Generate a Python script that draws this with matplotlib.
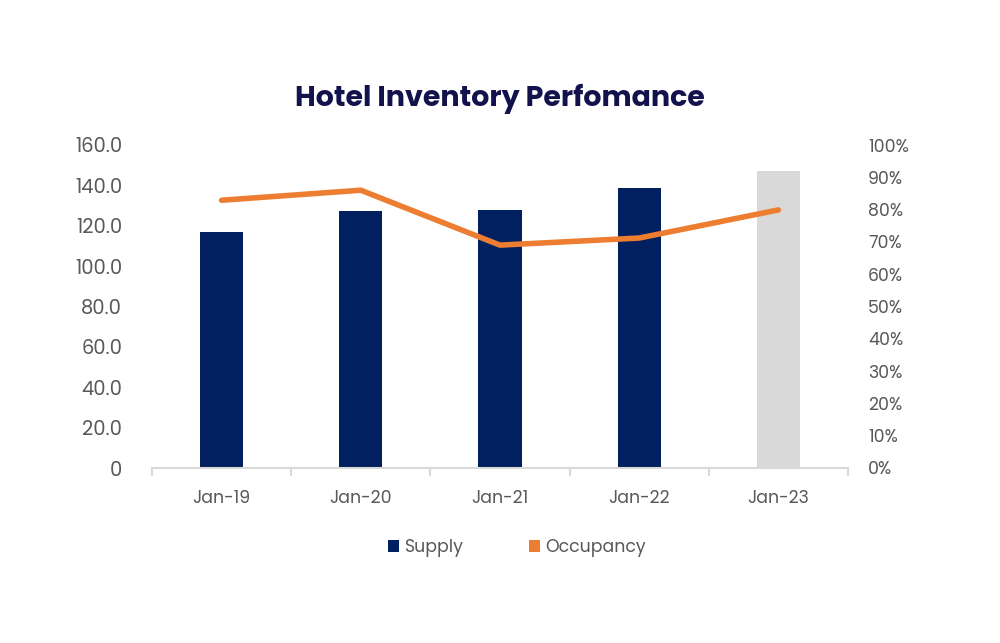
import matplotlib
matplotlib.use("Agg")
import matplotlib.pyplot as plt
from matplotlib.patches import Patch
from matplotlib.ticker import FuncFormatter, MultipleLocator, FixedLocator

categories = ["Jan-19", "Jan-20", "Jan-21", "Jan-22", "Jan-23"]
supply = [116.8, 127.4, 127.7, 138.5, 147.1]
occupancy = [82.9, 86.0, 69.0, 71.2, 79.9]
bar_colors = ["#002060", "#002060", "#002060", "#002060", "#D9D9D9"]

plt.rcParams['font.family'] = ['Poppins', 'Inter', 'DejaVu Sans']

fig = plt.figure(figsize=(10, 6.43), dpi=100)
ax = fig.add_axes([0.152, 1 - 468/643, 0.696, (468 - 145)/643])
x = list(range(len(categories)))
ax.bar(x, supply, width=0.31, color=bar_colors, zorder=2)
ax.set_xlim(-0.5, len(categories) - 0.5)
ax.set_ylim(0, 160)
ax.yaxis.set_major_locator(MultipleLocator(20))
ax.yaxis.set_major_formatter(FuncFormatter(lambda v, p: "0" if v == 0 else f"{v:.1f}"))

ax2 = ax.twinx()
ax2.plot(x, occupancy, color="#ED7D31", linewidth=4, solid_capstyle="round", zorder=3)
ax2.set_ylim(0, 100)
ax2.yaxis.set_major_locator(MultipleLocator(10))
ax2.yaxis.set_major_formatter(FuncFormatter(lambda v, p: f"{v:.0f}%"))

for a in (ax, ax2):
    for s in ["top", "right", "left"]:
        a.spines[s].set_visible(False)
    a.spines["bottom"].set_color("#D9D9D9")
    a.spines["bottom"].set_linewidth(1.5)
    a.tick_params(axis="y", length=0, labelcolor="#595959")
ax2.spines["bottom"].set_visible(False)
ax.tick_params(axis="y", pad=21.5, labelsize=14)
ax2.tick_params(axis="y", pad=14.5, labelsize=12.5)

ax.set_xticks(x)
ax.set_xticklabels(categories)
ax.tick_params(axis="x", length=0, labelsize=12.5, labelcolor="#595959", pad=16)
ax.xaxis.set_minor_locator(FixedLocator([i - 0.5 for i in range(len(categories) + 1)]))
ax.tick_params(axis="x", which="minor", length=6, width=1.5, color="#D9D9D9")

fig.text(0.5, 1 - 99/643, "Hotel Inventory Perfomance", ha="center", va="center",
         fontsize=20.5, fontweight="bold", color="#12124D")

handles = [Patch(facecolor="#002060", label="Supply"),
           Patch(facecolor="#ED7D31", label="Occupancy")]
fig.legend(handles=handles, loc="center", bbox_to_anchor=(0.517, 1 - 548/643), ncol=2,
           frameon=False, fontsize=12.5, handlelength=0.65, handleheight=0.65,
           handletextpad=0.3, columnspacing=3.8, labelcolor="#595959")

fig.savefig("out.png", dpi=100, facecolor="white")
